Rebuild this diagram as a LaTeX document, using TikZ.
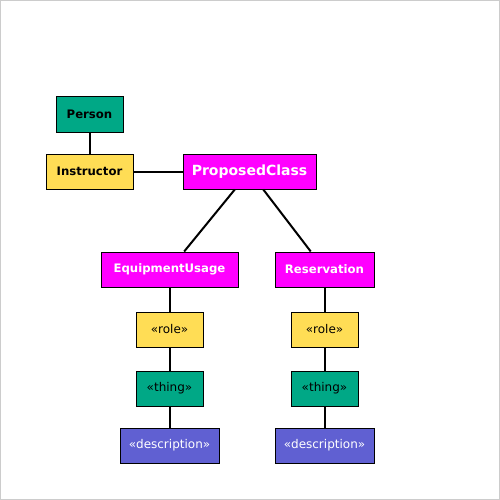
\documentclass[tikz,border=0pt]{standalone}
\usepackage{fontspec}
\setmainfont{DejaVu Sans}
\definecolor{cteal}{HTML}{00A886}
\definecolor{cyellow}{HTML}{FFDD55}
\definecolor{cmag}{HTML}{FF00FF}
\definecolor{cblue}{HTML}{6060D2}
\definecolor{cframe}{HTML}{CCCCCC}
\begin{document}
\begin{tikzpicture}[x=1pt,y=-1pt,
  box/.style={draw=black,line width=1pt,inner sep=0pt,minimum height=35pt,anchor=center},
  bt/.style={font=\fontsize{11.7}{13}\selectfont\bfseries},
  nt/.style={font=\fontsize{12}{14}\selectfont},
  link/.style={draw=black,line width=2pt}]
\draw[cframe,line width=1pt] (0.5,0.5) rectangle (499.5,499.5);
\useasboundingbox (0,0) rectangle (500,500);
\node[box,bt,fill=cteal,text=black,minimum width=67pt] (person) at (89.5,114.5) {Person};
\node[box,bt,fill=cyellow,text=black,minimum width=87pt] (instr) at (89.5,171.5) {Instructor};
\node[box,fill=cmag,text=white,minimum width=133pt,font=\fontsize{14}{16}\selectfont\bfseries] (pc) at (249.5,171.5) {ProposedClass};
\node[box,bt,fill=cmag,text=white,minimum width=137pt] (eu) at (169.5,269.5) {EquipmentUsage};
\node[box,bt,fill=cmag,text=white,minimum width=99pt] (res) at (324.5,269.5) {Reservation};
\node[box,nt,fill=cyellow,text=black,minimum width=67pt] (role1) at (169.5,329.5) {«role»};
\node[box,nt,fill=cteal,text=black,minimum width=67pt] (thing1) at (169.5,388.5) {«thing»};
\node[box,nt,fill=cblue,text=white,minimum width=99pt] (desc1) at (169.5,445.5) {«description»};
\node[box,nt,fill=cyellow,text=black,minimum width=67pt] (role2) at (324.5,329.5) {«role»};
\node[box,nt,fill=cteal,text=black,minimum width=67pt] (thing2) at (324.5,388.5) {«thing»};
\node[box,nt,fill=cblue,text=white,minimum width=99pt] (desc2) at (324.5,445.5) {«description»};
\draw[link] (person) -- (instr);
\draw[link] (instr) -- (pc);
\draw[link] (pc) -- (eu);
\draw[link] (pc) -- (res);
\draw[link] (eu) -- (role1);
\draw[link] (role1) -- (thing1);
\draw[link] (thing1) -- (desc1);
\draw[link] (res) -- (role2);
\draw[link] (role2) -- (thing2);
\draw[link] (thing2) -- (desc2);
\end{tikzpicture}
\end{document}
